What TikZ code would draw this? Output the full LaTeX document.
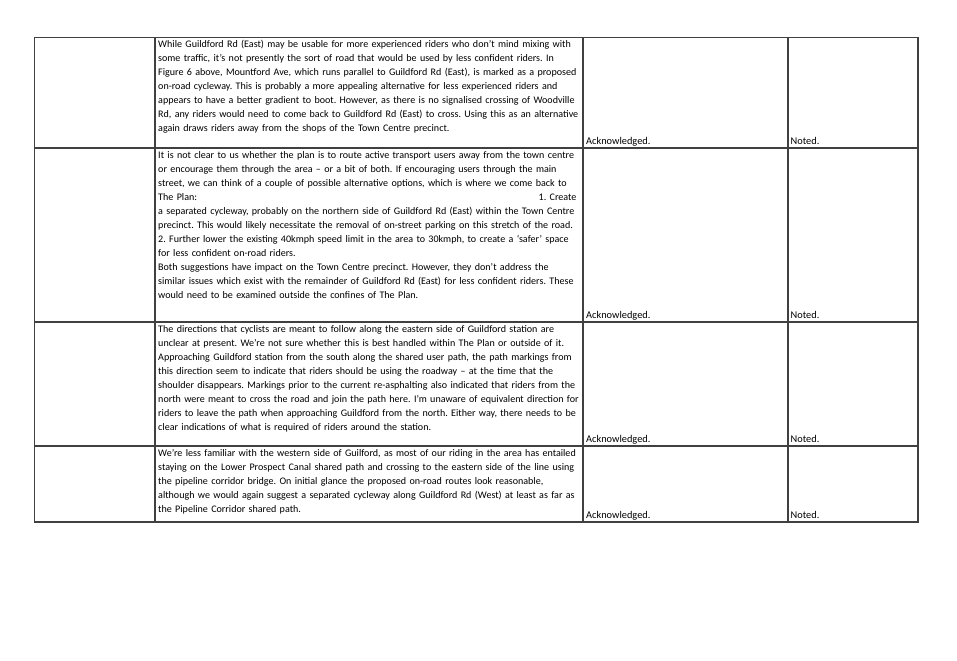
\documentclass[tikz,border=0pt]{standalone}
\usepackage{fontspec}
\setmainfont{Carlito}
\usepackage{tikz}
\frenchspacing
\tikzstyle{gridline}=[draw=black!75,line width=1.1pt]
\tikzstyle{celltext}=[anchor=north west,inner sep=0pt,text width=600pt,
                      align=left,font=\fontsize{8.85pt}{12.32pt}\selectfont]
\tikzstyle{replytext}=[anchor=base west,inner sep=0pt,
                       font=\fontsize{9.1pt}{12.32pt}\selectfont]

\begin{document}
\begin{tikzpicture}[x=0.88pt,y=-0.88pt]
    \useasboundingbox (0,0) rectangle (957,661);
    % table grid
    \draw[gridline] (34.5,37.5) rectangle (918,522);
    \foreach \x in {155,583,788}
      \draw[gridline] (\x,37.5) -- (\x,522);
    \foreach \y in {148,322,446}
      \draw[gridline] (34.5,\y) -- (918,\y);
    % comments
    \node (t1) at (158,37.7) [celltext]{\strut While Guildford Rd (East) may be usable for more experienced riders who don’t mind mixing with\\
      some traffic, it’s not presently the sort of road that would be used by less confident riders. In\\
      Figure 6 above, Mountford Ave, which runs parallel to Guildford Rd (East), is marked as a proposed\\
      on-road cycleway. This is probably a more appealing alternative for less experienced riders and\\
      appears to have a better gradient to boot. However, as there is no signalised crossing of Woodville\\
      Rd, any riders would need to come back to Guildford Rd (East) to cross. Using this as an alternative\\
      again draws riders away from the shops of the Town Centre precinct.};
    \node (t2) at (158,148.2) [celltext]{\strut It is not clear to us whether the plan is to route active transport users away from the town centre\\
      or encourage them through the area – or a bit of both. If encouraging users through the main\\
      street, we can think of a couple of possible alternative options, which is where we come back to\\
      \makebox[368pt][l]{The Plan:\hfill 1. Create}\\
      a separated cycleway, probably on the northern side of Guildford Rd (East) within the Town Centre\\
      precinct. This would likely necessitate the removal of on-street parking on this stretch of the road.\\
      2. Further lower the existing 40kmph speed limit in the area to 30kmph, to create a ‘safer’ space\\
      for less confident on-road riders.\\
      Both suggestions have impact on the Town Centre precinct. However, they don’t address the\\
      similar issues which exist with the remainder of Guildford Rd (East) for less confident riders. These\\
      would need to be examined outside the confines of The Plan.};
    \node (t3) at (158,322.2) [celltext]{\strut The directions that cyclists are meant to follow along the eastern side of Guildford station are\\
      unclear at present. We’re not sure whether this is best handled within The Plan or outside of it.\\
      Approaching Guildford station from the south along the shared user path, the path markings from\\
      this direction seem to indicate that riders should be using the roadway – at the time that the\\
      shoulder disappears. Markings prior to the current re-asphalting also indicated that riders from the\\
      north were meant to cross the road and join the path here. I’m unaware of equivalent direction for\\
      riders to leave the path when approaching Guildford from the north. Either way, there needs to be\\
      clear indications of what is required of riders around the station.};
    \node (t4) at (158,446.2) [celltext]{\strut We’re less familiar with the western side of Guilford, as most of our riding in the area has entailed\\
      staying on the Lower Prospect Canal shared path and crossing to the eastern side of the line using\\
      the pipeline corridor bridge. On initial glance the proposed on-road routes look reasonable,\\
      although we would again suggest a separated cycleway along Guildford Rd (West) at least as far as\\
      the Pipeline Corridor shared path.};
    % replies
    \node (a1) at (586,144.5) [replytext]{Acknowledged.};
    \node (n1) at (790.5,144.5) [replytext]{Noted.};
    \node (a2) at (586,318.5) [replytext]{Acknowledged.};
    \node (n2) at (790.5,318.5) [replytext]{Noted.};
    \node (a3) at (586,442.5) [replytext]{Acknowledged.};
    \node (n3) at (790.5,442.5) [replytext]{Noted.};
    \node (a4) at (586,518.5) [replytext]{Acknowledged.};
    \node (n4) at (790.5,518.5) [replytext]{Noted.};
\end{tikzpicture}
\end{document}
